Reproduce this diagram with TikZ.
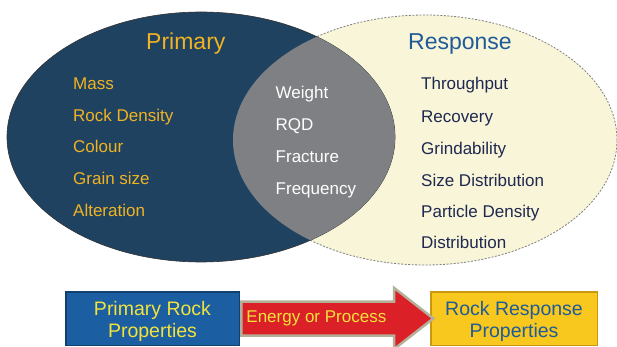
\documentclass[tikz,border=0pt]{standalone}
\usepackage{fontspec}
\setmainfont{Liberation Sans}
\usetikzlibrary{shapes.arrows}

\definecolor{venndark}{HTML}{1F4260}
\definecolor{venncream}{HTML}{F8F5D8}
\definecolor{venngrey}{HTML}{7E8083}
\definecolor{gold}{HTML}{F0B323}
\definecolor{respblue}{HTML}{1F5B98}
\definecolor{navy}{HTML}{1F2850}
\definecolor{boxblue}{HTML}{1C5EA2}
\definecolor{boxrim}{HTML}{123F6E}
\definecolor{boxyellow}{HTML}{F8C81E}
\definecolor{yellowrim}{HTML}{C8980F}
\definecolor{arrowred}{HTML}{DC2027}
\definecolor{arrowrim}{HTML}{B3AF98}
\definecolor{lemon}{HTML}{F2E33C}

\tikzset{
  item/.style={anchor=base west, inner sep=0pt, font=\fontsize{17}{20}\selectfont},
  heading/.style={anchor=base west, inner sep=0pt, font=\fontsize{23}{26}\selectfont},
  propbox/.style={line width=1.5pt, minimum height=53.5pt, align=center,
    font=\fontsize{19.5}{22}\selectfont},
  energy/.style={single arrow, fill=arrowred, draw=arrowrim, line width=2.5pt,
    text=lemon, font=\fontsize{17}{20}\selectfont, text height=12pt, text depth=4pt,
    inner ysep=7.75pt, inner xsep=2pt, minimum height=192pt,
    single arrow head extend=13.5pt, single arrow tip angle=76},
}

\begin{document}
\begin{tikzpicture}[x=1pt, y=-1pt]
  \useasboundingbox (0,0) rectangle (617,347);
  \coordinate (lc) at (201,137);
  \coordinate (rc) at (425,140);
  % the two sets and their overlap
  \filldraw[fill=venncream, draw=gray, dash pattern=on 2pt off 1.5pt, line width=0.8pt]
    (rc) ellipse [x radius=192pt, y radius=125pt];
  \filldraw[fill=venndark, draw=black!80, line width=0.6pt]
    (lc) ellipse [x radius=194pt, y radius=125pt];
  \begin{scope}
    \clip (rc) ellipse [x radius=192pt, y radius=125pt];
    \fill[venngrey] (lc) ellipse [x radius=194pt, y radius=125pt];
  \end{scope}

  \node[heading, text=gold] (primhead) at (146,50) {Primary};
  \node[item, text=gold] (mass) at (73,89.3) {Mass};
  \node[item, text=gold] (density) at (73,121.2) {Rock Density};
  \node[item, text=gold] (colour) at (73,153) {Colour};
  \node[item, text=gold] (grain) at (73,184.8) {Grain size};
  \node[item, text=gold] (alter) at (73,216.7) {Alteration};

  \node[item, text=white] (weight) at (275.5,99) {Weight};
  \node[item, text=white] (rqd) at (275.5,131) {RQD};
  \node[item, text=white] (fracture) at (275.5,162.7) {Fracture};
  \node[item, text=white] (frequency) at (275.5,194) {Frequency};

  \node[heading, text=respblue] (resphead) at (408,50) {Response};
  \node[item, text=navy] (throughput) at (421,90) {Throughput};
  \node[item, text=navy] (recovery) at (421,123) {Recovery};
  \node[item, text=navy] (grind) at (421,154.5) {Grindability};
  \node[item, text=navy] (sizedist) at (421,186) {Size Distribution};
  \node[item, text=navy] (partdens) at (421,217.5) {Particle Density};
  \node[item, text=navy] (distrib) at (421,248.5) {Distribution};

  % bottom: property boxes and the process arrow
  \node[propbox, fill=boxblue, draw=boxrim, text=lemon, minimum width=173.5pt]
    (primbox) at (152.5,318.5) {\rule{0pt}{20pt}Primary Rock\\Properties};
  \node[propbox, fill=boxyellow, draw=yellowrim, text=respblue, minimum width=166.5pt]
    (respbox) at (514,318.5) {\rule{0pt}{20pt}Rock Response\\Properties};
  \node[energy, anchor=tail] (energy) at (primbox.east)
    {Energy or Process\hspace*{20pt}};
\end{tikzpicture}
\end{document}
